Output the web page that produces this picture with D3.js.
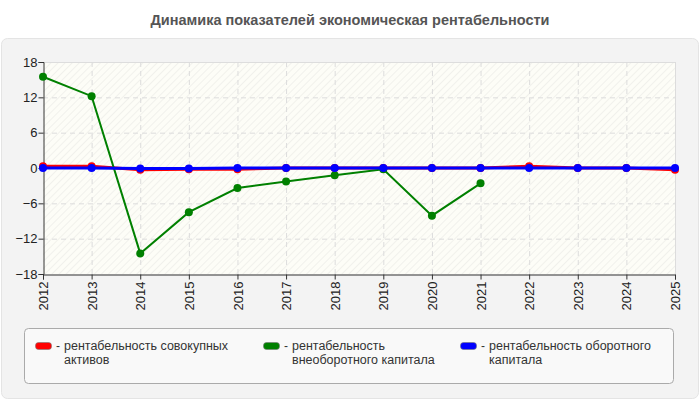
<!DOCTYPE html>
<html><head><meta charset="utf-8">
<script src="https://cdn.jsdelivr.net/npm/d3@7/dist/d3.min.js"></script>
<style>body{margin:0;background:#fff;font-family:Arial,"Liberation Sans",sans-serif}</style>
</head><body><svg id="c" width="700" height="400"></svg>
<script>
const years = [2012,2013,2014,2015,2016,2017,2018,2019,2020,2021,2022,2023,2024,2025];
const yTicks = [18,12,6,0,-6,-12,-18];
const title = "Динамика показателей экономическая рентабельности";
const seriesNames = ["рентабельность совокупных активов","рентабельность внеоборотного капитала","рентабельность оборотного капитала"];
const seriesColors = ["#ff0000","#008000","#0000ff"];
const redVals = [0.3,0.3,-0.3,-0.2,-0.2,0,0,0,0,0,0.3,0,0,-0.3];
const greenVals = [15.5,12.2,-14.5,-7.5,-3.4,-2.3,-1.25,-0.2,-8.1,-2.6,null,null,null,null];
const blueVals = [0,0,-0.1,-0.1,0,0,0,0,0,0,0,0,0,0];

const svg = d3.select("#c");
const defs = svg.append("defs");
const pat = defs.append("pattern").attr("id","hatch").attr("patternUnits","userSpaceOnUse")
  .attr("width",5).attr("height",5).attr("patternTransform","rotate(45)");
pat.append("rect").attr("width",5).attr("height",5).attr("fill","#fdfdf7");
pat.append("line").attr("x1",0).attr("y1",0).attr("x2",0).attr("y2",5).attr("stroke","#eeeeea").attr("stroke-width",1.6);

svg.append("text").attr("x",350).attr("y",25).attr("text-anchor","middle")
  .attr("font-size",14.5).attr("font-weight","bold").attr("fill","#555").text(title);
svg.append("rect").attr("x",1.5).attr("y",38.5).attr("width",697).attr("height",360).attr("rx",6)
  .attr("fill","#f3f3f3").attr("stroke","#e4e4e4");

const x = d3.scalePoint().domain(years).range([43,675]);
const y = d3.scaleLinear().domain([-18,18]).range([274,62]);

svg.append("rect").attr("x",43).attr("y",62).attr("width",632).attr("height",212).attr("fill","url(#hatch)");
svg.append("g").selectAll("line").data(yTicks.filter(d=>d>-18)).join("line")
  .attr("x1",43).attr("x2",675).attr("y1",d=>y(d)+0.5).attr("y2",d=>y(d)+0.5)
  .attr("stroke",(d)=>d===18?"#ddd":"#dcdcdc").attr("stroke-dasharray",d=>d===18?null:"5,4");
svg.append("g").selectAll("line").data(years.slice(1)).join("line")
  .attr("x1",d=>x(d)+0.5).attr("x2",d=>x(d)+0.5).attr("y1",62).attr("y2",274)
  .attr("stroke","#dcdcdc").attr("stroke-dasharray",d=>d===2025?null:"5,4");

const yAxis = svg.append("g").attr("transform","translate(43.5,0)")
  .call(d3.axisLeft(y).tickValues(yTicks).tickSize(5).tickFormat(d3.format("d")));
const xAxis = svg.append("g").attr("transform","translate(0,274.5)")
  .call(d3.axisBottom(x).tickSize(5));
[yAxis,xAxis].forEach(a=>{a.select(".domain").attr("stroke","#333");a.selectAll("line").attr("stroke","#333");
  a.selectAll("text").attr("font-size",13).attr("fill","#222").attr("font-family","Arial,'Liberation Sans',sans-serif");});
yAxis.selectAll("text").attr("x",-6);
xAxis.selectAll("text").attr("transform","rotate(-90)").attr("text-anchor","end")
  .attr("x",-7).attr("y",0).attr("dy","0.35em");

const line = d3.line().defined(d=>d[1]!==null).x(d=>x(d[0])).y(d=>y(d[1]));
function draw(vals,color,w,r){
  const pts = years.map((yr,i)=>[yr,vals[i]]);
  svg.append("path").datum(pts).attr("d",line).attr("fill","none").attr("stroke",color).attr("stroke-width",w);
  svg.append("g").selectAll("circle").data(pts.filter(p=>p[1]!==null)).join("circle")
    .attr("cx",p=>x(p[0])).attr("cy",p=>y(p[1])).attr("r",r).attr("fill",color);
}
draw(redVals,seriesColors[0],3,4);
draw(greenVals,seriesColors[1],2,4);
draw(blueVals,seriesColors[2],3,4);

svg.append("rect").attr("x",24.5).attr("y",328.5).attr("width",649).attr("height",55).attr("rx",4)
  .attr("fill","#f9f9f9").attr("stroke","#aaa");
const legX = [36,264,461];
const legLines = [["рентабельность совокупных","активов"],["рентабельность","внеоборотного капитала"],["рентабельность оборотного","капитала"]];
legX.forEach((lx,i)=>{
  const g = svg.append("g");
  g.append("rect").attr("x",lx-0.5).attr("y",342.5).attr("width",16).attr("height",7).attr("rx",3)
    .attr("fill",seriesColors[i]).attr("stroke","#777").attr("stroke-width",0.6);
  g.append("text").attr("x",lx+20).attr("y",350).attr("font-size",12).attr("fill","#333").text("-");
  legLines[i].forEach((t,j)=>g.append("text").attr("x",lx+28).attr("y",350+j*14).attr("font-size",12.5).attr("fill","#333").text(t));
});
</script></body></html>
